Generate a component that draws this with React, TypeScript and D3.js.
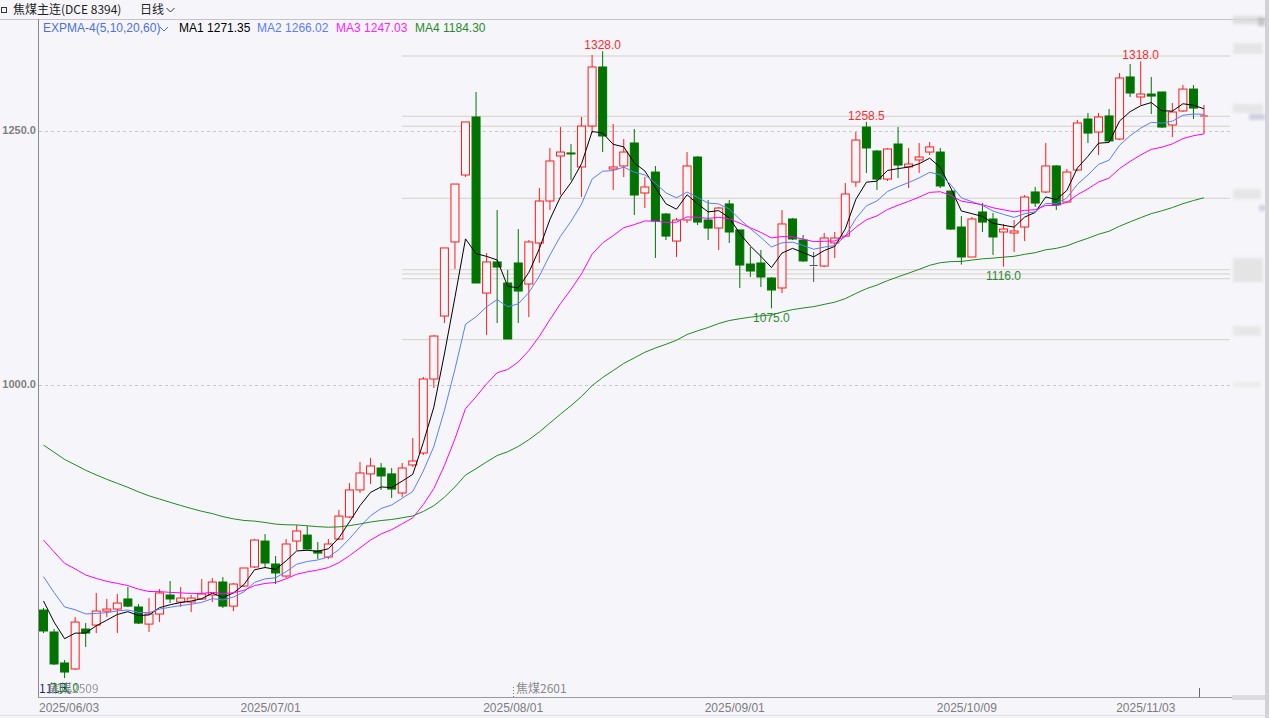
import React from "react";
import * as d3 from "d3";

// ---- data ----
const opens = [
  778.0, 756.4, 725.9, 720.0, 759.3, 763.2, 777.0, 779.0, 788.9, 781.0,
  764.2, 774.1, 792.8, 785.9, 785.9, 788.9, 792.8, 805.6, 781.9, 801.6,
  820.4, 845.9, 823.3, 811.5, 845.9, 851.8, 836.1, 830.2, 847.9, 869.6,
  896.2, 912.0, 917.8, 912.0, 893.2, 920.8, 932.6, 1005.4, 1067.4, 1140.3,
  1206.2, 1263.3, 1090.0, 1120.6, 1099.9, 1119.6, 1098.9, 1139.3, 1180.6, 1224.9,
  1227.9, 1214.1, 1254.4, 1312.5, 1212.1, 1215.1, 1237.7, 1188.5, 1209.1, 1167.8,
  1141.2, 1161.9, 1223.9, 1161.9, 1154.0, 1177.7, 1152.1, 1118.6, 1119.6, 1104.8,
  1095.0, 1162.9, 1142.2, 1117.1, 1116.6, 1139.3, 1146.1, 1199.3, 1253.4, 1229.8,
  1202.2, 1236.7, 1214.1, 1221.0, 1228.8, 1228.8, 1190.4, 1155.0, 1125.5, 1169.8,
  1162.9, 1150.1, 1149.1, 1155.0, 1189.5, 1189.5, 1215.1, 1179.6, 1211.1, 1261.3,
  1248.5, 1264.3, 1241.6, 1302.7, 1283.0, 1285.9, 1287.9, 1255.4, 1269.2, 1290.8, 1263.8,
];
const highs = [
  780.0, 759.3, 728.8, 771.1, 765.2, 794.8, 788.9, 793.8, 800.7, 783.9,
  789.8, 798.7, 806.6, 800.7, 792.8, 808.6, 809.5, 810.5, 804.6, 819.4,
  847.9, 852.8, 831.2, 847.9, 861.7, 860.7, 845.0, 847.9, 876.5, 903.0,
  923.7, 927.6, 922.7, 917.8, 922.7, 947.3, 1007.4, 1048.7, 1134.4, 1197.3,
  1258.4, 1287.9, 1129.4, 1171.7, 1112.7, 1153.0, 1142.2, 1193.4, 1232.8, 1253.4,
  1236.7, 1263.3, 1324.3, 1328.0, 1256.4, 1241.6, 1251.5, 1204.2, 1215.1, 1168.8,
  1163.9, 1228.8, 1224.9, 1181.6, 1174.7, 1181.6, 1152.1, 1135.3, 1132.4, 1105.8,
  1171.7, 1163.9, 1147.1, 1130.4, 1149.1, 1150.1, 1198.3, 1248.5, 1258.5, 1230.8,
  1232.8, 1253.4, 1232.8, 1237.7, 1238.7, 1232.8, 1190.4, 1165.8, 1164.9, 1178.6,
  1168.8, 1158.0, 1161.9, 1186.5, 1194.4, 1237.7, 1216.0, 1212.1, 1260.4, 1267.2,
  1267.2, 1271.2, 1306.6, 1315.5, 1318.0, 1302.7, 1287.9, 1277.1, 1294.8, 1294.8, 1275.1,
];
const lows = [
  755.4, 723.9, 711.0, 719.0, 741.6, 755.4, 771.1, 755.4, 781.0, 764.2,
  756.4, 766.2, 784.9, 781.0, 776.0, 787.9, 785.9, 780.0, 777.0, 800.7,
  819.4, 819.4, 803.6, 809.5, 837.1, 837.1, 828.2, 828.2, 846.9, 868.6,
  893.2, 902.0, 896.2, 888.3, 889.3, 918.8, 930.6, 996.5, 1060.5, 1113.7,
  1204.2, 1099.9, 1048.7, 1060.5, 1044.8, 1060.5, 1066.4, 1119.6, 1171.7, 1186.5,
  1201.3, 1184.5, 1247.5, 1228.8, 1191.4, 1204.2, 1166.8, 1173.7, 1124.5, 1142.2,
  1125.5, 1158.9, 1157.0, 1142.2, 1132.4, 1139.3, 1095.0, 1105.8, 1095.9, 1075.0,
  1090.0, 1142.2, 1120.6, 1100.9, 1115.6, 1124.5, 1145.2, 1194.4, 1208.2, 1191.4,
  1200.3, 1203.2, 1193.4, 1208.2, 1225.9, 1193.4, 1152.1, 1118.0, 1125.5, 1150.1,
  1127.5, 1116.0, 1130.4, 1141.2, 1174.7, 1188.5, 1171.7, 1178.6, 1210.1, 1237.7,
  1225.9, 1238.7, 1240.6, 1283.0, 1275.1, 1266.2, 1252.5, 1243.6, 1268.2, 1261.3, 1246.6,
];
const closes = [
  757.4, 724.9, 717.0, 766.2, 755.4, 777.0, 779.0, 784.9, 781.9, 765.2,
  774.1, 794.8, 788.9, 789.8, 789.8, 793.8, 805.6, 781.9, 803.6, 819.4,
  846.9, 824.3, 814.5, 843.0, 855.8, 838.1, 834.1, 843.0, 870.5, 896.2,
  912.9, 919.8, 910.0, 897.1, 917.8, 924.7, 1005.4, 1047.7, 1134.4, 1197.3,
  1258.4, 1099.9, 1120.6, 1115.6, 1044.8, 1092.0, 1140.3, 1180.6, 1220.0, 1228.8,
  1226.9, 1254.4, 1312.5, 1244.6, 1214.1, 1228.8, 1186.5, 1194.4, 1160.9, 1146.1,
  1161.9, 1215.1, 1159.9, 1154.0, 1173.7, 1150.1, 1117.6, 1111.7, 1105.8, 1093.0,
  1158.0, 1143.2, 1121.6, 1117.1, 1144.2, 1144.2, 1187.5, 1240.6, 1232.8, 1202.2,
  1231.8, 1216.0, 1217.0, 1223.9, 1233.8, 1195.4, 1153.0, 1125.5, 1162.9, 1159.9,
  1145.2, 1153.0, 1151.1, 1184.5, 1178.6, 1215.1, 1176.7, 1209.1, 1257.4, 1247.5,
  1263.3, 1239.7, 1301.7, 1286.9, 1285.9, 1283.9, 1253.4, 1268.2, 1290.8, 1272.1, 1264.3,
];

const dateTickIndex = [0, 20, 43, 64, 86, 103];
const dateTickLabels = ["2025/06/03", "2025/07/01", "2025/08/01", "2025/09/01", "2025/10/09", "2025/11/03"];
const yTicks = [1000, 1250];
const levelLines = [1323.3, 1264.0, 1254.2, 1183.3, 1113.0, 1108.8, 1104.1, 1044.1];

const emaNames = ["MA1", "MA2", "MA3", "MA4"];
const emaPeriods = [5, 10, 20, 60];
const emaSeeds = [786.9, 810.9, 846.9, 940.4];
const emaLegendValues = ["1271.35", "1266.02", "1247.03", "1184.30"];
const emaColors = ["#000000", "#5a7dff", "#ff00ff", "#1e8c1e"];
const emaLegendColors = ["#000000", "#5a7dff", "#ff22ff", "#2a8a2a"];
const legendX = [179, 257, 336, 415];

const highMarks = [53, 78, 104];
const lowMarks = [2, 69, 91];

// ---- layout ----
const W = 1269;
const H = 718;
const plotLeft = 38;
const plotRight = 1231;
const plotTop = 19;
const plotBottom = 697;

const x = d3.scaleLinear().domain([0, 110]).range([43.5, 1204]);
const y = d3.scaleLinear().domain([1000, 1250]).range([384.5, 130.5]);

function ema(period: number, seed: number): number[] {
  const a = 2 / (period + 1);
  const out: number[] = [seed];
  for (let i = 1; i < closes.length; i++) out.push(a * closes[i] + (1 - a) * out[i - 1]);
  return out;
}

const FONT = "'Liberation Sans', Arial, sans-serif";
const CJK = "'Noto Sans CJK SC', 'Liberation Sans', sans-serif";
const BG = "#f6f6fa";
const RED = "#ff1a1a";
const GREEN = "#007300";

export default function App() {
  const emas = emaPeriods.map((p, k) => ema(p, emaSeeds[k]));
  const line = d3
    .line<number>()
    .x((_, i) => x(i))
    .y((d) => y(d));

  const bw = 8;

  return (
    <svg
      width={W}
      height={H}
      style={{ position: "fixed", left: 0, top: 0, background: BG }}
      xmlns="http://www.w3.org/2000/svg"
    >
      <defs>
        <filter id="blur" x="-20%" y="-50%" width="140%" height="200%">
          <feGaussianBlur stdDeviation="1.6" />
        </filter>
        <clipPath id="plotClip">
          <rect x={plotLeft + 1} y={plotTop + 1} width={plotRight - plotLeft} height={plotBottom - plotTop - 1} />
        </clipPath>
      </defs>
      <rect x={0} y={0} width={W} height={H} fill={BG} />

      {/* header */}
      <rect x={1.5} y={7.5} width={5} height={5} fill="none" stroke="#333" strokeWidth={1} />
      <text x={13} y={14} fontFamily={CJK} fontSize={12} fill="#222">焦煤主连(DCE 8394)</text>
      <text x={140} y={14} fontFamily={CJK} fontSize={12} fill="#222">日线</text>
      <path d="M166.5,8 L170.5,12 L174.5,8" fill="none" stroke="#333" strokeWidth={1} />
      <line x1={0} x2={W} y1={19.5} y2={19.5} stroke="#c4c4c8" />

      {/* axes */}
      <line x1={plotLeft + 0.5} x2={plotLeft + 0.5} y1={plotTop} y2={plotBottom} stroke="#8a8a8a" />
      <line x1={plotLeft} x2={1232} y1={plotBottom + 0.5} y2={plotBottom + 0.5} stroke="#9a9a9a" />
      <rect x={1232} y={695} width={33} height={5} fill="#dcdce0" />
      <rect x={1265} y={0} width={4} height={H} fill="#d2d2d6" />
      <line x1={0} x2={W} y1={715.5} y2={715.5} stroke="#e0e0e4" />

      {/* blurred right-side labels */}
      <g filter="url(#blur)" opacity={0.8}>
        <rect x={1233} y={16} width={28} height={8} fill="#d8d8d8" />
        <rect x={1258} y={17} width={7} height={9} fill="#b8b8b8" />
        <rect x={1233} y={43} width={30} height={11} fill="#e2e2e2" />
        <rect x={1233} y={104} width={30} height={9} fill="#e2e2e2" />
        <rect x={1249} y={114} width={16} height={6} fill="#c6c6de" />
        <rect x={1233} y={189} width={28} height={10} fill="#e2e2e2" />
        <rect x={1259} y={205} width={6} height={6} fill="#c6c6de" />
        <rect x={1233} y={258} width={30} height={24} fill="#e0e0e0" />
        <rect x={1233} y={326} width={28} height={10} fill="#e4e4e4" />
        <rect x={1233} y={382} width={28} height={5} fill="#e8e8e8" />
      </g>

      {/* y gridlines and labels */}
      {yTicks.map((t) => (
        <g key={t}>
          <line x1={plotLeft + 1} x2={1230} y1={Math.round(y(t)) + 0.5} y2={Math.round(y(t)) + 0.5} stroke="#c8c8cc" strokeDasharray="3,3" />
          <text x={36} y={y(t)} dy="0.35em" textAnchor="end" fontFamily={FONT} fontSize={11} fontWeight="bold" fill="#808080">
            {t.toFixed(1)}
          </text>
        </g>
      ))}

      {/* level lines */}
      {levelLines.map((v, k) => (
        <line key={k} x1={402} x2={1230} y1={y(v)} y2={y(v)} stroke="#d2d0c8" strokeWidth={1} />
      ))}

      {/* x labels */}
      {dateTickIndex.map((idx, k) => (
        <text key={k} x={Math.max(39, x(idx) - 14)} y={712} fontFamily={FONT} fontSize={12} fill="#7c7c7c">
          {dateTickLabels[k]}
        </text>
      ))}
      <line x1={1199.5} x2={1199.5} y1={688} y2={697} stroke="#666" />

      {/* contract markers */}
      <text x={39} y={693} fontFamily={CJK} fontSize={12} fill="#1a2a8a">111天</text>
      <text x={48} y={693} fontFamily={CJK} fontSize={12} fill="#8a8a8a" opacity={0.85}>焦煤2509</text>
      <line x1={513.5} x2={513.5} y1={687} y2={697} stroke="#777" strokeDasharray="1,2" />
      <text x={516} y={693} fontFamily={CJK} fontSize={12} fill="#8a8a8a">焦煤2601</text>

      {/* candles */}
      <g clipPath="url(#plotClip)">
        {closes.map((c, i) => {
          const o = opens[i];
          const cx = x(i);
          const up = c > o;
          const flat = c === o;
          const col = flat ? "#555555" : up ? RED : GREEN;
          const top = y(Math.max(o, c));
          const bot = y(Math.min(o, c));
          const h = Math.max(1, bot - top);
          if (up || flat) {
            return (
              <g key={i}>
                <line x1={cx} x2={cx} y1={y(highs[i])} y2={top} stroke={col} />
                <line x1={cx} x2={cx} y1={top + h} y2={y(lows[i])} stroke={col} />
                {h <= 1.5 ? (
                  <line x1={cx - bw / 2} x2={cx + bw / 2} y1={top} y2={top} stroke={col} />
                ) : (
                  <rect x={cx - bw / 2} y={top} width={bw} height={h} fill={BG} stroke={col} />
                )}
              </g>
            );
          }
          return (
            <g key={i}>
              <line x1={cx} x2={cx} y1={y(highs[i])} y2={y(lows[i])} stroke={col} />
              <rect x={cx - bw / 2} y={top} width={bw} height={h} fill={col} stroke={col} />
            </g>
          );
        })}

        {/* EMA lines */}
        {emas.map((arr, k) => (
          <path key={k} d={line(arr) || ""} fill="none" stroke={emaColors[k]} strokeWidth={1} />
        ))}
      </g>

      {/* high / low labels */}
      {highMarks.map((i) => (
        <text key={"h" + i} x={x(i)} y={y(highs[i]) - 2} textAnchor="middle" fontFamily={FONT} fontSize={12} fill="#ff2a2a">
          {highs[i].toFixed(1)}
        </text>
      ))}
      {lowMarks.map((i) => (
        <text key={"l" + i} x={x(i)} y={y(lows[i]) + 13.5} textAnchor="middle" fontFamily={FONT} fontSize={12} fill="#2e8a2e">
          {lows[i].toFixed(1)}
        </text>
      ))}

      {/* legend */}
      <text x={43} y={32} fontFamily={FONT} fontSize={12} fill="#4a6fe8">EXPMA-4(5,10,20,60)</text>
      <path d="M160,27 L164,31 L168,27" fill="none" stroke="#4a6fe8" strokeWidth={1} />
      {emaNames.map((n, k) => (
        <text key={n} x={legendX[k]} y={32} fontFamily={FONT} fontSize={12} fill={emaLegendColors[k]}>
          {n} {emaLegendValues[k]}
        </text>
      ))}
    </svg>
  );
}
